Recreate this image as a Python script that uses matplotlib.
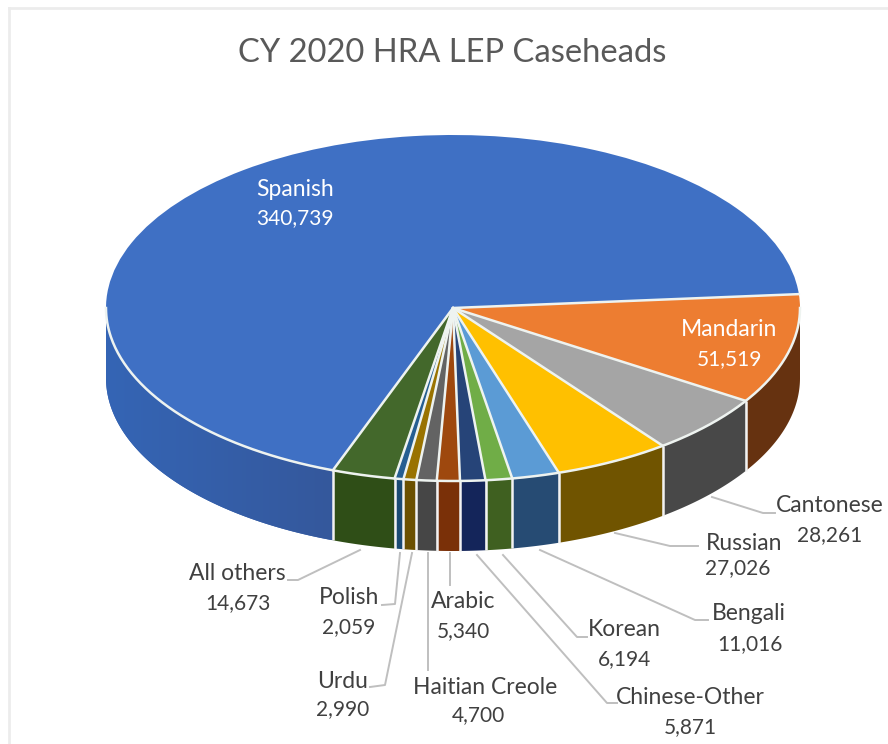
import numpy as np
import matplotlib
matplotlib.use("Agg")
import matplotlib.pyplot as plt
from matplotlib.colors import LinearSegmentedColormap
from matplotlib.patches import Wedge, Polygon
from matplotlib.transforms import Affine2D

title = "CY 2020 HRA LEP Caseheads"
languages = ["Mandarin", "Cantonese", "Russian", "Bengali", "Korean", "Chinese-Other",
             "Arabic", "Haitian Creole", "Urdu", "Polish", "All others", "Spanish"]
counts = [51519, 28261, 27026, 11016, 6194, 5871, 5340, 4700, 2990, 2059, 14673, 340739]
top_colors = ["#ED7D31", "#A5A5A5", "#FFC000", "#5B9BD5", "#70AD47", "#264478",
              "#9E480E", "#636363", "#997300", "#255E91", "#43682B", "#3F70C4"]
side_colors = ["#663210", "#484848", "#705400", "#264B73", "#3F6020", "#14255A",
               "#7A3008", "#464646", "#6B5000", "#1A4A73", "#2F4E17", "#3460AE"]

# layout in reference pixels
CX, CY, A, B, DEPTH = 453, 308, 347, 173, 70
START = 4.6
DARK = "#404040"
label_pos = {  # name centre x, name y, value x, value y, colour
    "Spanish": (295, 190, 295, 218, "white"), "Mandarin": (729, 329, 729, 359, "white"),
    "Cantonese": (830, 506, 830, 535, DARK), "Russian": (744, 543, 738, 568, DARK),
    "Bengali": (749, 614, 750, 644, DARK), "Korean": (624, 630, 624, 659, DARK),
    "Chinese-Other": (690, 697, 690, 727, DARK), "Haitian Creole": (485, 687, 478, 715, DARK),
    "Arabic": (463, 602, 463, 631, DARK), "Urdu": (343, 681, 343, 709, DARK),
    "Polish": (349, 598, 349, 627, DARK), "All others": (237, 574, 238, 603, DARK),
}
leaders = [
    [(712, 497), (763, 513), (775, 513)], [(615, 533), (670, 546), (698, 546)],
    [(540, 550), (695, 620), (708, 620)], [(503, 555), (577, 637), (587, 637)],
    [(477, 555), (607, 703), (617, 703)], [(450, 553), (450, 585)],
    [(428, 553), (428, 670)], [(412, 553), (385, 685), (370, 687)],
    [(400, 553), (395, 604), (382, 605)], [(360, 550), (298, 580), (288, 580)],
]

plt.rcParams["font.family"] = ["Lato", "DejaVu Sans"]
fig = plt.figure(figsize=(8.88, 7.44), dpi=100)
ax = fig.add_axes([0, 0, 1, 1])
ax.set_xlim(0, 888)
ax.set_ylim(744, 0)
ax.axis("off")

# chart frame
ax.plot([9, 9], [744, 8], color="#ECECEC", lw=2, zorder=0)
ax.plot([9, 888], [8, 8], color="#ECECEC", lw=2, zorder=0)

vals = np.array(counts, float)
sweeps = vals / vals.sum() * 360
ends = START - np.cumsum(sweeps)
starts = ends + sweeps
EDGE = "#EEF3F0"

def rim(deg, dz=0.0):
    r = np.radians(deg)
    return CX + A * np.cos(r), CY - B * np.sin(r) + dz

# side walls (visible only on the front half: angle between -180 and 0)
for name, s, e, c in zip(languages, starts, ends, side_colors):
    for shift in (0, -360, 360):
        hi, lo = min(s + shift, 0), max(e + shift, -180)
        if hi <= lo:
            continue
        t = np.linspace(hi, lo, 160)
        x, y = rim(t)
        xb, yb = rim(t, DEPTH)
        poly = Polygon(np.r_[np.c_[x, y], np.c_[xb, yb][::-1]], fc=c, ec="none", zorder=2)
        ax.add_patch(poly)
        if name == "Spanish":
            cmap = LinearSegmentedColormap.from_list("wall", ["#3565B5", "#34589C"])
            im = ax.imshow(np.linspace(0, 1, 256)[None, :], cmap=cmap, aspect="auto",
                           extent=(x.min(), x.max(), yb.max(), y.min()), zorder=2.5)
            im.set_clip_path(poly)
ax.set_xlim(0, 888)
ax.set_ylim(744, 0)

# separators on the side wall
for e in ends:
    d = ((e + 180) % 360) - 180
    if -180 < d < 0:
        x, y = rim(d)
        ax.plot([x, x], [y, y + DEPTH], color="#F2F2F2", lw=1.8, zorder=3, solid_capstyle="butt")

# top face: wedges on a unit circle squashed into an ellipse
tf = Affine2D().scale(A, -B).translate(CX, CY) + ax.transData
for s, e, c in zip(starts, ends, top_colors):
    ax.add_patch(Wedge((0, 0), 1, e, s, fc=c, ec="none", transform=tf, zorder=4))

# white spokes and the front rim
for e in ends:
    x, y = rim(e)
    ax.plot([CX, x], [CY, y], color=EDGE, lw=1.8, zorder=4.5, solid_capstyle="round")
t = np.linspace(-180, 0, 300)
ax.plot(*rim(t), color=EDGE, lw=1.8, zorder=4.5)

# leader lines
for pts in leaders:
    p = np.array(pts)
    ax.plot(p[:, 0], p[:, 1], color="#BFBFBF", lw=1.4, zorder=1)

# labels
for name, n in zip(languages, counts):
    nx, ny, vx, vy, c = label_pos[name]
    ax.text(nx, ny, name, color=c, fontsize=16.5, ha="center", va="center", zorder=5)
    ax.text(vx, vy, f"{n:,}", color=c, fontsize=15, ha="center", va="center", zorder=5)

ax.text(452, 53, title, color="#595959", fontsize=23.6, ha="center", va="center")
fig.savefig("out.png", dpi=100)
